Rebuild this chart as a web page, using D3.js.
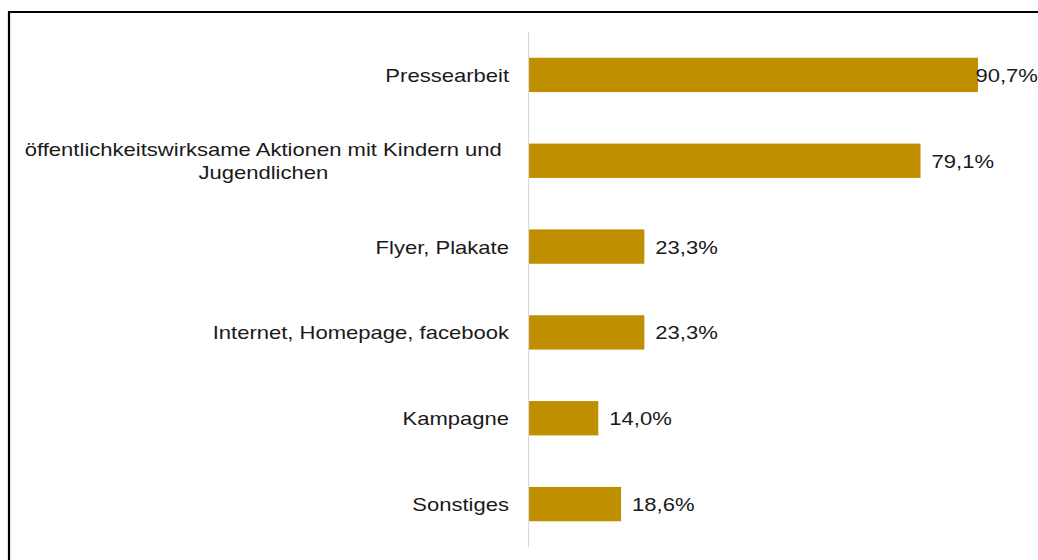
<!DOCTYPE html>
<html>
<head>
<meta charset="utf-8">
<script src="https://cdn.jsdelivr.net/npm/d3@7"></script>
<style>
  html, body { margin: 0; padding: 0; background: #fff; }
  svg { display: block; }
  text { font-family: "Liberation Sans", Arial, sans-serif; fill: #1a1a1a; }
</style>
</head>
<body>
<svg id="chart" width="1038" height="560"></svg>
<script>
const categories = [
  "Pressearbeit",
  "öffentlichkeitswirksame Aktionen mit Kindern und Jugendlichen",
  "Flyer, Plakate",
  "Internet, Homepage, facebook",
  "Kampagne",
  "Sonstiges"
];
const values = [90.7, 79.1, 23.3, 23.3, 14.0, 18.6];
const valueLabels = ["90,7%", "79,1%", "23,3%", "23,3%", "14,0%", "18,6%"];

const W = 1038, H = 560;
const svg = d3.select("#chart");

// frame
svg.append("path")
  .attr("d", `M9,${H} L9,12 L${W},12`)
  .attr("fill", "none")
  .attr("stroke", "#000")
  .attr("stroke-width", 2.2);

const x0 = 529;
const x = d3.scaleLinear().domain([0, 100]).range([x0, x0 + 495]);
const y = d3.scaleBand().domain(categories).range([32, 547]).paddingInner(0.6).paddingOuter(0.3);

// bars
svg.selectAll("rect.bar").data(categories).join("rect")
  .attr("class", "bar")
  .attr("x", x(0))
  .attr("y", d => y(d))
  .attr("width", (d, i) => x(values[i]) - x(0))
  .attr("height", y.bandwidth())
  .attr("fill", "#BF8F00");

// axis line
const axis = svg.append("g").attr("transform", `translate(${x0 - 0.5},0)`)
  .call(d3.axisLeft(y).tickSize(0).tickFormat(""));
axis.select(".domain").attr("stroke", "#d9d9d9").attr("stroke-width", 1.2)
  .attr("d", `M0,32V547`);

const fontSize = 19, k = 1.16;
const labelRight = 509;

function measure(str) {
  const p = svg.append("text").attr("font-size", fontSize).text(str);
  const w = p.node().getComputedTextLength() * k;
  p.remove();
  return w;
}

// category labels with wrapping
categories.forEach((c, i) => {
  const cy = y(c) + y.bandwidth() / 2;
  const words = c.split(" ");
  const lines = [];
  let cur = [];
  words.forEach(w => {
    const test = cur.concat([w]).join(" ");
    if (measure(test) > 495 && cur.length) {
      lines.push(cur.join(" "));
      cur = [w];
    } else cur.push(w);
  });
  lines.push(cur.join(" "));
  const maxW = d3.max(lines, measure);
  const lh = 23;
  if (lines.length === 1) {
    svg.append("text")
      .attr("font-size", fontSize)
      .attr("text-anchor", "end")
      .attr("transform", `translate(${labelRight},${cy + 7}) scale(${k},1)`)
      .text(lines[0]);
  } else {
    const cx = labelRight - 7 - maxW / 2;
    lines.forEach((l, j) => {
      svg.append("text")
        .attr("font-size", fontSize)
        .attr("text-anchor", "middle")
        .attr("transform", `translate(${cx},${cy + 7 + (j - (lines.length - 1) / 2) * lh}) scale(${k},1)`)
        .text(l);
    });
  }
});

// value labels
categories.forEach((c, i) => {
  const cy = y(c) + y.bandwidth() / 2;
  const tw = measure(valueLabels[i]);
  const end = x(values[i]);
  let tx = end + 11;
  if (tx + tw > W) tx = Math.min(end + 1, W - tw);
  svg.append("text")
    .attr("font-size", fontSize)
    .attr("transform", `translate(${tx},${cy + 7}) scale(${k},1)`)
    .text(valueLabels[i]);
});
</script>
</body>
</html>
